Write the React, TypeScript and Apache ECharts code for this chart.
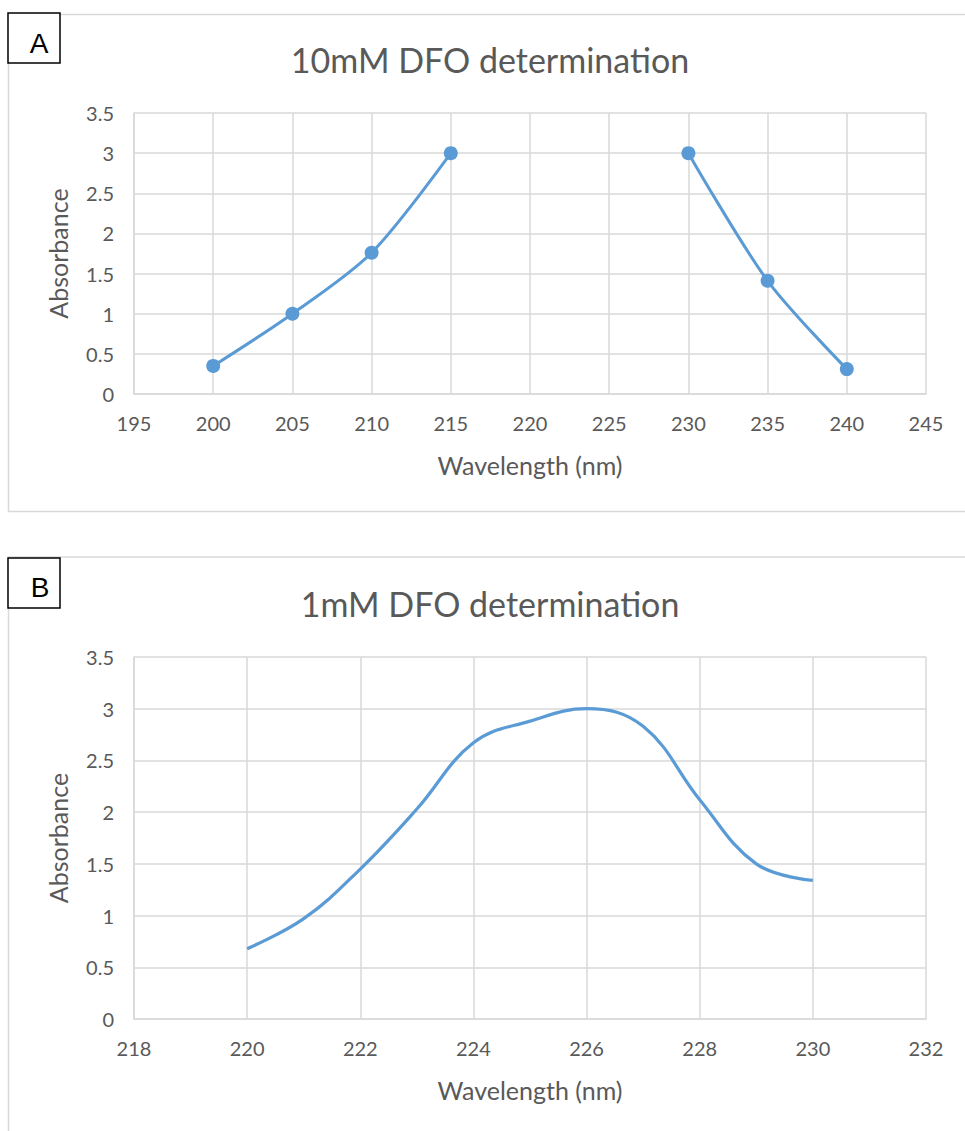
import React, { useEffect, useRef } from "react";
import * as echarts from "echarts";

const titleA = "10mM DFO determination";
const titleB = "1mM DFO determination";
const xNameA = "Wavelength (nm)";
const yNameA = "Absorbance";

const wavelengthsA = [200, 205, 210, 215, 220, 225, 230, 235, 240];
const absorbanceA: (number | null)[] = [0.35, 1.0, 1.76, 3.0, null, null, 3.0, 1.41, 0.31];

const wavelengthsB = [220, 221, 222, 223, 224, 225, 226, 227, 228, 229, 230];
const absorbanceB = [0.68, 0.97, 1.45, 2.03, 2.67, 2.88, 3.0, 2.83, 2.12, 1.5, 1.34];

const xRangeA = { min: 195, max: 245, interval: 5 };
const xRangeB = { min: 218, max: 232, interval: 2 };
const yRange = { min: 0, max: 3.5, interval: 0.5 };

const BLUE = "#5B9BD5";
const GRID = "#D9D9D9";
const TEXT = "#595959";
const FONT = "Lato, 'Open Sans', sans-serif";

export default function App() {
  const ref = useRef<HTMLDivElement>(null);
  useEffect(() => {
    if (!ref.current) return;
    const chart = echarts.init(ref.current, undefined, { renderer: "svg" });
    const xAxisBase = (r: { min: number; max: number; interval: number }, gridIndex: number) => ({
      type: "value",
      gridIndex,
      min: r.min,
      max: r.max,
      interval: r.interval,
      name: xNameA,
      nameLocation: "middle",
      nameGap: 58,
      nameTextStyle: { color: TEXT, fontSize: 25, fontFamily: FONT },
      axisLine: { show: true, lineStyle: { color: GRID, width: 1.5 } },
      axisTick: { show: false },
      axisLabel: { color: TEXT, fontSize: 20, fontFamily: FONT, margin: 19 },
      splitLine: { show: true, lineStyle: { color: GRID, width: 1.5 } },
    });
    const yAxisBase = (gridIndex: number) => ({
      type: "value",
      gridIndex,
      min: yRange.min,
      max: yRange.max,
      interval: yRange.interval,
      name: yNameA,
      nameLocation: "middle",
      nameGap: 64,
      nameTextStyle: { color: TEXT, fontSize: 25, fontFamily: FONT },
      axisLine: { show: true, lineStyle: { color: GRID, width: 1.5 } },
      axisTick: { show: false },
      axisLabel: { color: TEXT, fontSize: 20, fontFamily: FONT, margin: 20 },
      splitLine: { show: true, lineStyle: { color: GRID, width: 1.5 } },
    });
    const labelBox = (x: number, y: number, label: string, cx: number, cy: number) => [
      {
        type: "rect",
        shape: { x, y, width: 52, height: 50 },
        style: { fill: "#fff", stroke: "#000", lineWidth: 1.5 },
        z: 10,
      },
      {
        type: "text",
        x: cx,
        y: cy,
        style: {
          text: label,
          fill: "#000",
          fontSize: 28,
          fontFamily: "'Liberation Sans', Arial, sans-serif",
          textAlign: "center",
          textVerticalAlign: "middle",
        },
        z: 11,
      },
    ];
    chart.setOption({
      animation: false,
      backgroundColor: "#fff",
      grid: [
        { left: 134, top: 113, width: 792, height: 281 },
        { left: 134, top: 657, width: 792, height: 362 },
      ],
      xAxis: [xAxisBase(xRangeA, 0), xAxisBase(xRangeB, 1)],
      yAxis: [yAxisBase(0), yAxisBase(1)],
      series: [
        {
          type: "line",
          xAxisIndex: 0,
          yAxisIndex: 0,
          data: wavelengthsA.map((w, i) => [w, absorbanceA[i] === null ? "-" : absorbanceA[i]]),
          smooth: 0.3,
          connectNulls: false,
          symbol: "circle",
          symbolSize: 14,
          itemStyle: { color: BLUE },
          lineStyle: { color: BLUE, width: 3 },
        },
        {
          type: "line",
          xAxisIndex: 1,
          yAxisIndex: 1,
          data: wavelengthsB.map((w, i) => [w, absorbanceB[i]]),
          smooth: 0.4,
          symbol: "none",
          lineStyle: { color: BLUE, width: 3.2 },
        },
      ],
      graphic: [
        {
          type: "rect",
          shape: { x: 8.5, y: 14.5, width: 970, height: 497 },
          style: { fill: "none", stroke: GRID, lineWidth: 1.5 },
        },
        {
          type: "rect",
          shape: { x: 8.5, y: 557, width: 970, height: 600 },
          style: { fill: "none", stroke: GRID, lineWidth: 1.5 },
        },
        ...labelBox(8, 13, "A", 39, 43),
        ...labelBox(8, 558, "B", 40, 587),
        {
          type: "text",
          x: 490,
          y: 59,
          style: { text: titleA, fill: TEXT, fontSize: 34, fontFamily: FONT, textAlign: "center", textVerticalAlign: "middle" },
        },
        {
          type: "text",
          x: 490,
          y: 603,
          style: { text: titleB, fill: TEXT, fontSize: 34, fontFamily: FONT, textAlign: "center", textVerticalAlign: "middle" },
        },
      ],
    });
    return () => chart.dispose();
  }, []);
  return <div ref={ref} style={{ position: "absolute", left: 0, top: 0, width: 965, height: 1131 }} />;
}
